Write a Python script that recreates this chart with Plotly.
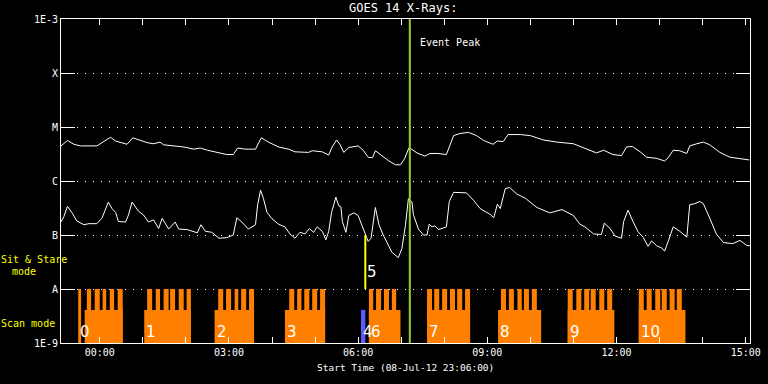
import plotly.graph_objects as go

# ---------------- data ----------------
long_time = ["23:06","23:15","23:24","23:33","23:56","00:06","00:15","00:22","00:33","00:38","00:46","00:57",
             "01:06","01:15","01:24","01:29","01:43","01:57","02:11","02:20","02:30","02:43","02:57","03:06",
             "03:12","03:23","03:37","03:45","03:55","04:09","04:23","04:32","04:51","04:56","05:10","05:19",
             "05:23","05:30","05:35","05:40","05:47","06:00","06:07","06:14","06:20","06:24","06:31","06:42",
             "06:52","06:59","07:05","07:11","07:22","07:33","07:40","07:50","08:03","08:08","08:13","08:22",
             "08:34","08:45","08:55","09:08","09:14","09:22","09:29","09:46","10:00","10:18","10:37","11:00",
             "11:14","11:23","11:32","11:42","11:55","12:07","12:14","12:22","12:33","12:42","12:56","13:07",
             "13:12","13:19","13:28","13:38","13:42","13:52","14:01","14:10","14:24","14:38","14:52","15:05"]
long_log10 = [-5.35,-5.25,-5.32,-5.35,-5.35,-5.26,-5.19,-5.26,-5.31,-5.32,-5.20,-5.25,
              -5.29,-5.31,-5.28,-5.33,-5.35,-5.37,-5.41,-5.39,-5.43,-5.47,-5.51,-5.51,
              -5.39,-5.41,-5.41,-5.20,-5.28,-5.37,-5.41,-5.46,-5.47,-5.44,-5.46,-5.52,
              -5.39,-5.24,-5.33,-5.47,-5.38,-5.35,-5.43,-5.56,-5.57,-5.44,-5.51,-5.62,
              -5.70,-5.70,-5.58,-5.38,-5.48,-5.54,-5.49,-5.49,-5.51,-5.33,-5.16,-5.12,
              -5.10,-5.16,-5.25,-5.32,-5.26,-5.27,-5.14,-5.14,-5.16,-5.24,-5.28,-5.31,
              -5.39,-5.43,-5.48,-5.43,-5.51,-5.53,-5.37,-5.36,-5.46,-5.56,-5.58,-5.63,
              -5.57,-5.43,-5.44,-5.49,-5.35,-5.31,-5.28,-5.33,-5.47,-5.56,-5.58,-5.61]

short_time = ["23:06","23:10","23:15","23:22","23:28","23:38","23:45","23:56","00:03","00:08","00:12","00:17",
              "00:22","00:26","00:36","00:40","00:45","00:54","01:01","01:08","01:15","01:22","01:27","01:36",
              "01:45","01:50","02:02","02:16","02:21","02:27","02:36","02:46","02:57","03:06","03:11","03:18",
              "03:27","03:37","03:40","03:44","03:48","03:53","04:00","04:09","04:18","04:25","04:32","04:39",
              "04:46","04:52","04:58","05:03","05:10","05:15","05:19","05:23","05:29","05:33","05:36","05:38",
              "05:43","05:47","05:54","06:00","06:05","06:10","06:14","06:18","06:24","06:29","06:35","06:47",
              "06:56","07:01","07:06","07:10","07:15","07:17","07:24","07:31","07:36","07:39","07:43","07:47",
              "07:52","08:03","08:07","08:13","08:31","08:41","08:50","09:04","09:09","09:14","09:18","09:25",
              "09:31","09:41","09:53","10:09","10:27","10:44","11:00","11:09","11:16","11:28","11:39","11:43",
              "11:51","11:58","12:07","12:10","12:16","12:23","12:30","12:37","12:44","12:49","12:56","13:03",
              "13:07","13:12","13:19","13:28","13:38","13:42","13:49","13:56","14:01","14:10","14:19","14:29",
              "14:42","14:52","15:01","15:06"]
short_log10 = [-6.76,-6.66,-6.47,-6.60,-6.74,-6.81,-6.79,-6.79,-6.69,-6.51,-6.39,-6.51,
               -6.58,-6.75,-6.76,-6.63,-6.39,-6.56,-6.63,-6.76,-6.72,-6.88,-6.69,-6.89,
               -6.76,-6.89,-6.90,-6.96,-6.81,-6.93,-6.95,-7.06,-7.05,-7.00,-6.68,-6.76,
               -6.89,-6.81,-6.44,-6.17,-6.32,-6.58,-6.70,-6.80,-6.85,-6.98,-7.06,-6.95,
               -6.98,-6.88,-6.95,-6.85,-6.93,-7.09,-6.93,-6.58,-6.30,-6.46,-6.48,-6.75,
               -6.95,-6.64,-6.59,-6.64,-6.81,-7.00,-7.12,-7.06,-6.49,-6.81,-7.00,-7.32,
               -7.42,-7.25,-6.81,-6.33,-6.39,-6.62,-6.89,-7.00,-7.00,-6.80,-6.85,-6.83,
               -6.90,-6.85,-6.38,-6.21,-6.22,-6.36,-6.51,-6.62,-6.68,-6.43,-6.51,-6.14,
               -6.12,-6.24,-6.32,-6.49,-6.59,-6.53,-6.64,-6.80,-6.85,-6.98,-6.99,-6.78,
               -6.88,-7.02,-7.06,-6.75,-6.54,-6.75,-6.94,-7.04,-7.21,-7.11,-7.20,-7.24,
               -7.30,-7.12,-6.85,-6.93,-7.04,-6.44,-6.42,-6.38,-6.42,-6.69,-6.98,-7.14,
               -7.16,-7.10,-7.19,-7.20]

scan_labels = ["0", "1", "2", "3", "6", "7", "8", "9", "10"]
scan_start = ["23:39", "01:02", "02:40", "04:18", "06:15", "07:36", "09:15", "10:52", "12:31"]
scan_end = ["00:32", "02:07", "03:35", "05:14", "06:59", "08:36", "10:15", "11:57", "13:36"]
scan_spikes = [
    [("23:30", "23:34"), ("23:42", "23:48"), ("23:53", "00:00"), ("00:04", "00:09"), ("00:14", "00:20"), ("00:25", "00:32")],
    [("01:06", "01:13"), ("01:18", "01:24"), ("01:29", "01:36"), ("01:38", "01:45"), ("01:50", "01:57"), ("02:01", "02:07")],
    [("02:45", "02:52"), ("02:56", "03:03"), ("03:08", "03:13"), ("03:17", "03:24"), ("03:28", "03:35")],
    [("04:24", "04:31"), ("04:35", "04:41"), ("04:45", "04:52"), ("04:56", "05:03"), ("05:07", "05:14")],
    [("06:15", "06:21"), ("06:25", "06:32"), ("06:36", "06:43"), ("06:47", "06:53")],
    [("07:36", "07:43"), ("07:46", "07:53"), ("07:57", "08:04"), ("08:08", "08:15"), ("08:18", "08:25"), ("08:29", "08:36")],
    [("09:19", "09:26"), ("09:30", "09:37"), ("09:42", "09:48"), ("09:51", "09:58"), ("10:02", "10:09")],
    [("10:52", "10:59"), ("11:04", "11:11"), ("11:15", "11:22"), ("11:24", "11:31"), ("11:36", "11:43"), ("11:47", "11:54")],
    [("12:31", "12:38"), ("12:42", "12:49"), ("12:54", "13:01"), ("13:03", "13:10"), ("13:14", "13:21"), ("13:24", "13:31")],
]
scan_base_level = 4.1e-9
scan_spike_level = 1e-8

blue_label = "4"
blue_start, blue_end = "06:04", "06:10"
stare_label = "5"
stare_time = "06:10"
stare_low, stare_high = 1e-8, 1e-7

event_peak_time = "07:12"

range_start, range_end = "23:06", "15:06"
tick_hours = ["00:00","01:00","02:00","03:00","04:00","05:00","06:00","07:00",
              "08:00","09:00","10:00","11:00","12:00","13:00","14:00","15:00"]
tick_labels = ["00:00","","","03:00","","","06:00","","","09:00","","","12:00","","","15:00"]

y_tickvals = [1e-9, 1e-8, 1e-7, 1e-6, 1e-5, 1e-4, 1e-3]
y_ticktext = ["1E-9", "A", "B", "C", "M", "X", "1E-3"]

# ---------------- helpers ----------------
def dt(hhmm):
    h = int(hhmm.split(":")[0])
    day = "2012-07-08" if h >= 23 else "2012-07-09"
    return f"{day} {hhmm}"

FONT = "DejaVu Sans Mono"
DIGIT_FONT = "DejaVu Sans"
ORANGE = "#ff8000"

def rect_path(intervals, top):
    xs, ys = [], []
    for s, e in intervals:
        xs += [dt(s), dt(s), dt(e), dt(e), dt(s), None]
        ys += [1e-9, top, top, 1e-9, 1e-9, None]
    return xs, ys

fig = go.Figure()

# scan mode bases and spikes
bx, by = rect_path(list(zip(scan_start, scan_end)), scan_base_level)
fig.add_trace(go.Scatter(x=bx, y=by, mode="lines", fill="toself", fillcolor=ORANGE,
                         line=dict(width=0, color=ORANGE), hoverinfo="skip"))
all_spikes = [iv for blk in scan_spikes for iv in blk]
sx, sy = rect_path(all_spikes, scan_spike_level)
fig.add_trace(go.Scatter(x=sx, y=sy, mode="lines", fill="toself", fillcolor=ORANGE,
                         line=dict(width=0, color=ORANGE), hoverinfo="skip"))
# blue bar
ux, uy = rect_path([(blue_start, blue_end)], scan_base_level)
fig.add_trace(go.Scatter(x=ux, y=uy, mode="lines", fill="toself", fillcolor="#5a5aff",
                         line=dict(width=0, color="#5a5aff"), hoverinfo="skip"))

# GOES curves
fig.add_trace(go.Scatter(x=[dt(t) for t in long_time], y=[10 ** v for v in long_log10],
                         mode="lines", line=dict(color="white", width=1)))
fig.add_trace(go.Scatter(x=[dt(t) for t in short_time], y=[10 ** v for v in short_log10],
                         mode="lines", line=dict(color="white", width=1)))

# sit & stare line
fig.add_trace(go.Scatter(x=[dt(stare_time), dt(stare_time)], y=[stare_low, stare_high],
                         mode="lines", line=dict(color="#ffff00", width=2)))
# event peak line
fig.add_trace(go.Scatter(x=[dt(event_peak_time), dt(event_peak_time)], y=[1e-9, 1e-3],
                         mode="lines", line=dict(color="#9acd32", width=2)))

annotations = []
for lab, st, spk in zip(scan_labels, scan_start, scan_spikes):
    first = min([dt(st)] + [dt(s) for s, _ in spk])
    annotations.append(dict(x=first, y=-8.8, xref="x", yref="y", text=lab, showarrow=False,
                            xanchor="left", yanchor="middle",
                            font=dict(family=DIGIT_FONT, size=15, color="white")))
annotations.append(dict(x=dt(blue_start), y=-8.8, xref="x", yref="y", text=blue_label, showarrow=False,
                        xanchor="left", yanchor="middle", font=dict(family=DIGIT_FONT, size=15, color="white")))
annotations.append(dict(x=dt(stare_time), y=-7.685, xref="x", yref="y", text=stare_label, showarrow=False,
                        xanchor="left", yanchor="middle", font=dict(family=DIGIT_FONT, size=15, color="white")))
annotations.append(dict(x=dt(event_peak_time), y=-3.44, xref="x", yref="y", text="Event Peak", showarrow=False,
                        xanchor="left", yanchor="middle", xshift=8,
                        font=dict(family=FONT, size=10, color="white")))
annotations += [
    dict(x=0.497, y=1.034, xref="paper", yref="paper", text="GOES 14 X-Rays:", showarrow=False,
         xanchor="center", yanchor="middle", font=dict(family=FONT, size=12, color="white")),
    dict(x=0.5, y=-0.076, xref="paper", yref="paper", text="Start Time (08-Jul-12 23:06:00)", showarrow=False,
         xanchor="center", yanchor="middle", font=dict(family=FONT, size=9.5, color="white")),
    dict(x=-0.0385, y=0.259, xref="paper", yref="paper", text="Sit & Stare", showarrow=False,
         xanchor="center", yanchor="middle", font=dict(family=FONT, size=10, color="#ffff00")),
    dict(x=-0.053, y=0.222, xref="paper", yref="paper", text="mode", showarrow=False,
         xanchor="center", yanchor="middle", font=dict(family=FONT, size=10, color="#ffff00")),
    dict(x=-0.0472, y=0.060, xref="paper", yref="paper", text="Scan mode", showarrow=False,
         xanchor="center", yanchor="middle", font=dict(family=FONT, size=10, color="#ffff00")),
]

fig.update_layout(
    width=768, height=384,
    margin=dict(l=61, r=18, t=19, b=41),
    paper_bgcolor="black", plot_bgcolor="black",
    showlegend=False,
    annotations=annotations,
    xaxis=dict(type="date", range=[dt(range_start), dt(range_end)],
               tickmode="array", tickvals=[dt(t) for t in tick_hours], ticktext=tick_labels,
               ticks="inside", ticklen=6, tickcolor="white", tickwidth=1,
               showline=True, linecolor="white", linewidth=1, mirror="ticks",
               showgrid=False, zeroline=False, automargin=False,
               tickfont=dict(family=FONT, size=10, color="white")),
    yaxis=dict(type="log", range=[-9, -3],
               tickmode="array", tickvals=y_tickvals, ticktext=y_ticktext,
               ticks="inside", ticklen=14, tickcolor="white", tickwidth=1,
               showline=True, linecolor="white", linewidth=1, mirror="ticks",
               showgrid=True, gridcolor="white", gridwidth=1, griddash="1px,7px",
               zeroline=False, automargin=False,
               tickfont=dict(family=FONT, size=10, color="white")),
)

fig.write_html("out.html", config={"displayModeBar": False},
               post_script="document.body.style.margin='0';document.body.style.overflow='hidden';")
